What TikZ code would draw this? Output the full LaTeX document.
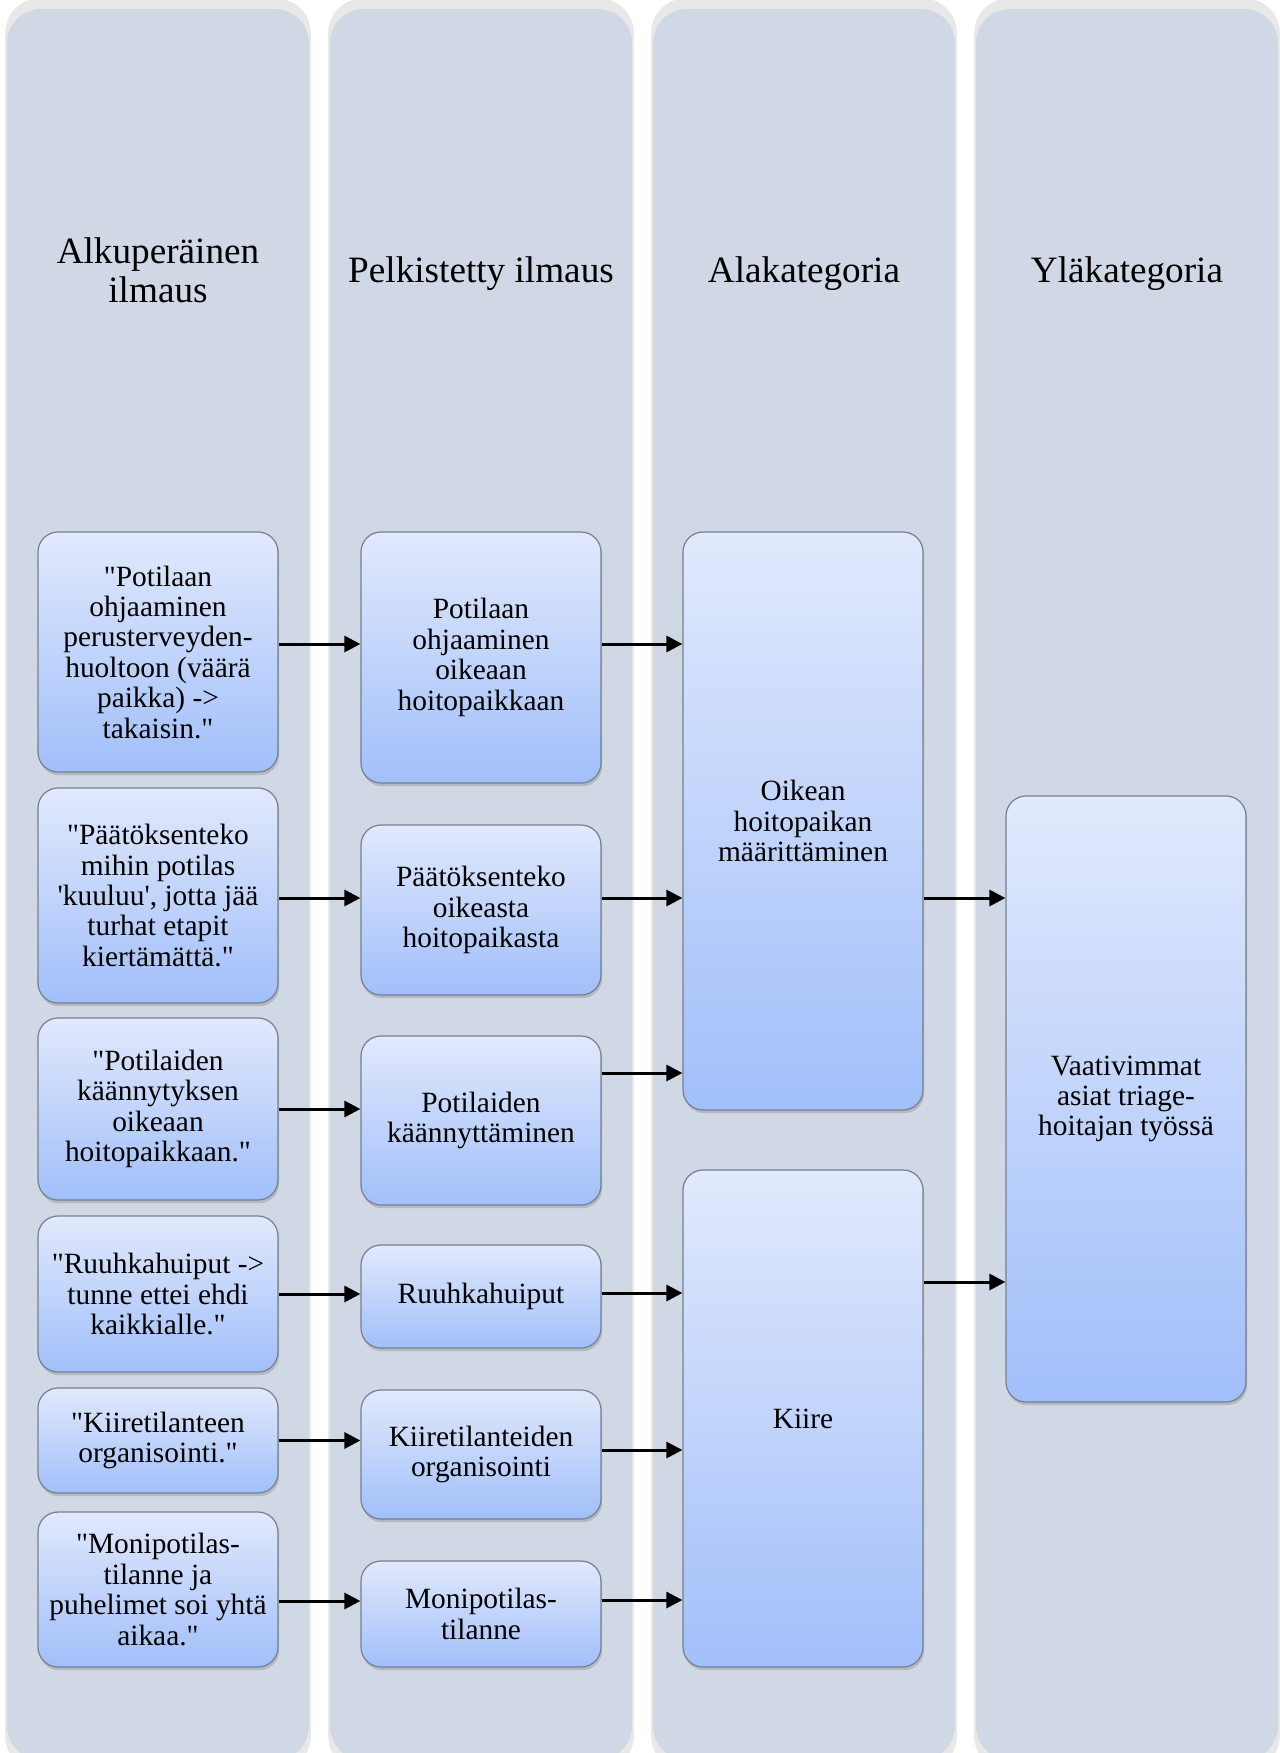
\documentclass[tikz,border=0pt]{standalone}
\usepackage{fontspec}
\setmainfont{Liberation Serif}[Ligatures=TeXOff]
\usetikzlibrary{arrows.meta,shadows}

\definecolor{lanebg}{RGB}{208,215,229}
\definecolor{cardtop}{RGB}{225,233,252}
\definecolor{cardbot}{RGB}{161,191,250}
\definecolor{cardline}{RGB}{118,128,144}

\begin{document}
\begin{tikzpicture}[x=0.5pt, y=-0.5pt,
    lane/.style={fill=lanebg, rounded corners=17pt,
        drop shadow={opacity=0.18, shadow xshift=0pt, shadow yshift=0pt, shadow scale=1.012}},
    head/.style={align=center, font=\fontsize{18.6pt}{19.6pt}\selectfont},
    card/.style={draw=cardline, line width=0.6pt, rounded corners=10pt,
        top color=cardtop, bottom color=cardbot, minimum width=120pt,
        inner sep=2pt, align=center, font=\fontsize{14.7pt}{15.2pt}\selectfont,
        drop shadow={opacity=0.35, shadow xshift=0.6pt, shadow yshift=-1.6pt}},
    arr/.style={line width=1.5pt, -{Triangle[length=8pt, width=8pt]}}]

    \useasboundingbox (0,0) rectangle (1280,1753);

    % Lanes
    \fill[lane] (7,9) rectangle (309,1760);
    \fill[lane] (330,9) rectangle (632,1760);
    \fill[lane] (653,9) rectangle (955,1760);
    \fill[lane] (976,9) rectangle (1278,1760);

    % Headers
    \node[head] (h1) at (158,270) {Alkuperäinen\\ilmaus};
    \node[head] (h2) at (481,274) {Pelkistetty ilmaus};
    \node[head] (h3) at (804,274) {Alakategoria};
    \node[head] (h4) at (1127,274) {Yläkategoria};

    % Original expressions
    \node[card, minimum height=120pt] (b1) at (158,652) {"Potilaan\\ohjaaminen\\perusterveyden-\\huoltoon (väärä\\paikka) ->\\takaisin."};
    \node[card, minimum height=107.5pt] (b2) at (158,895.5) {"Päätöksenteko\\mihin potilas\\'kuuluu', jotta jää\\turhat etapit\\kiertämättä."};
    \node[card, minimum height=91pt] (b3) at (158,1109) {"Potilaiden\\käännytyksen\\oikeaan\\hoitopaikkaan."};
    \node[card, minimum height=78pt] (b4) at (158,1294) {"Ruuhkahuiput ->\\tunne ettei ehdi\\kaikkialle."};
    \node[card, minimum height=52.5pt] (b5) at (158,1440.5) {"Kiiretilanteen\\organisointi."};
    \node[card, minimum height=77.5pt] (b6) at (158,1589.5) {"Monipotilas-\\tilanne ja\\puhelimet soi yhtä\\aikaa."};

    % Reduced expressions
    \node[card, minimum height=125.5pt] (p1) at (481,657.5) {Potilaan\\ohjaaminen\\oikeaan\\hoitopaikkaan};
    \node[card, minimum height=85pt] (p2) at (481,910) {Päätöksenteko\\oikeasta\\hoitopaikasta};
    \node[card, minimum height=84.5pt] (p3) at (481,1120.5) {Potilaiden\\käännyttäminen};
    \node[card, minimum height=51.5pt] (p4) at (481,1296.5) {Ruuhkahuiput};
    \node[card, minimum height=64.5pt] (p5) at (481,1454.5) {Kiiretilanteiden\\organisointi};
    \node[card, minimum height=53pt] (p6) at (481,1614) {Monipotilas-\\tilanne};

    % Subcategories
    \node[card, minimum height=289pt] (a1) at (803,821) {Oikean\\hoitopaikan\\määrittäminen};
    \node[card, minimum height=248.5pt] (a2) at (803,1418.5) {Kiire};

    % Main category
    \node[card, minimum height=303pt] (y1) at (1126,1099) {Vaativimmat\\asiat triage-\\hoitajan työssä};

    % Arrows
    \draw[arr] ([yshift=4pt]b1.east) coordinate (o) -- (o -| p1.west);
    \draw[arr] ([yshift=-1.25pt]b2.east) coordinate (o) -- (o -| p2.west);
    \draw[arr] (b3.east) -- (p3.west |- b3.east);
    \draw[arr] (b4.east) -- (p4.west |- b4.east);
    \draw[arr] (b5.east) -- (p5.west |- b5.east);
    \draw[arr] ([yshift=-5.75pt]b6.east) coordinate (o) -- (o -| p6.west);

    \draw[arr] ([yshift=6.75pt]p1.east) coordinate (o) -- (o -| a1.west);
    \draw[arr] ([yshift=6pt]p2.east) coordinate (o) -- (o -| a1.west);
    \draw[arr] ([yshift=23.75pt]p3.east) coordinate (o) -- (o -| a1.west);
    \draw[arr] ([yshift=1.75pt]p4.east) coordinate (o) -- (o -| a2.west);
    \draw[arr] ([yshift=2.25pt]p5.east) coordinate (o) -- (o -| a2.west);
    \draw[arr] ([yshift=7pt]p6.east) coordinate (o) -- (o -| a2.west);

    \draw[arr] ([yshift=-38.5pt]a1.east) coordinate (o) -- (o -| y1.west);
    \draw[arr] ([yshift=68.25pt]a2.east) coordinate (o) -- (o -| y1.west);
\end{tikzpicture}
\end{document}
